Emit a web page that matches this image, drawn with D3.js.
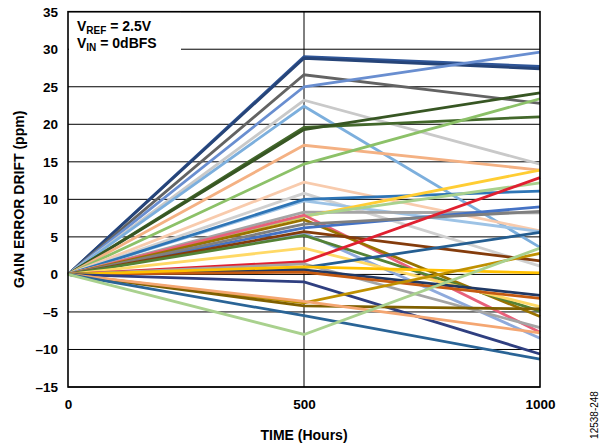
<!DOCTYPE html>
<html>
<head>
<meta charset="utf-8">
<script src="https://cdn.jsdelivr.net/npm/d3@7"></script>
<style>
  body { margin: 0; background: #fff; }
  text { font-family: Arial, "Liberation Sans", sans-serif; }
  .b { font-weight: bold; }
</style>
</head>
<body>
<script>
var times = [0, 500, 1000];
// drift (ppm) at 500 h and 1000 h for each device; all start at 0
var drift500 = [29.0, 28.8, 26.6, 25.0, 23.2, 22.4, 19.6, 19.3, 17.2, 14.7,
                12.3, 10.8, 9.8, 10.0, 8.3, 7.7, 7.8, 7.9, 7.3, 6.2,
                6.7, 5.5, 5.7, 5.2, 3.5, 1.7, 1.4, 0.9, 0.6, 0.3,
                1.0, -1.0, -3.8, -4.2, -3.6, -5.5, -8.0];
var drift1000 = [27.7, 27.4, 22.8, 29.6, 14.7, 3.6, 21.0, 24.2, 13.9, 23.4,
                 5.8, 1.1, 5.7, 11.1, 8.2, 13.9, 12.2, -7.7, -5.6, 9.0,
                 8.4, -8.5, 1.8, -4.9, -4.3, 12.9, -7.1, 5.6, -2.8, -3.2,
                 0.2, -10.6, 2.8, -4.6, -7.8, -11.3, 3.5];
var lineColors = ["#2f5597", "#264478", "#636363", "#698ed0", "#c9c9c9", "#7cafdd", "#43682b", "#375623", "#f4b183", "#8cc168",
                  "#f8cbad", "#d0d0d0", "#9dc3e6", "#2e75b6", "#a5a5a5", "#ffcd33", "#a9d18e", "#e8607a", "#997300", "#4472c4",
                  "#7f7f7f", "#8faadc", "#843c0c", "#548235", "#ffd966", "#e02030", "#a5a5a5", "#255e91", "#203864", "#c55a11",
                  "#ffc000", "#2f3f80", "#bf9000", "#7f6000", "#f4a672", "#2a6496", "#a9d18e"];
var yTicks = [-15, -10, -5, 0, 5, 10, 15, 20, 25, 30, 35];
var xTicks = [0, 500, 1000];

var W = 605, H = 447;
var svg = d3.select("body").append("svg").attr("width", W).attr("height", H);

var x = d3.scaleLinear().domain([0, 1000]).range([68, 540]);
var y = d3.scaleLinear().domain([-15, 35]).range([387, 11.7]);

// grid
svg.selectAll("line.hgrid").data(yTicks).enter().append("line")
  .attr("x1", x(0)).attr("x2", x(1000))
  .attr("y1", function(d){ return y(d); }).attr("y2", function(d){ return y(d); })
  .attr("stroke", "#000").attr("stroke-width", 1);
svg.append("line")
  .attr("x1", x(500)).attr("x2", x(500)).attr("y1", y(35)).attr("y2", y(-15))
  .attr("stroke", "#000").attr("stroke-width", 1);

// series
var line = d3.line().x(function(d){ return x(d[0]); }).y(function(d){ return y(d[1]); });
var series = drift500.map(function(v, i){
  return [[times[0], 0], [times[1], v], [times[2], drift1000[i]]];
});
svg.selectAll("path.s").data(series).enter().append("path")
  .attr("d", line)
  .attr("fill", "none")
  .attr("stroke", function(d, i){ return lineColors[i]; })
  .attr("stroke-width", 2.8)
  .attr("stroke-linejoin", "miter");

// legend box
svg.append("rect").attr("x", x(0) + 1).attr("y", y(35) + 1).attr("width", 112).attr("height", 43).attr("fill", "#fff");
var leg = svg.append("g").attr("class", "b").attr("font-size", 14);
var t1 = leg.append("text").attr("x", 77).attr("y", 31);
t1.append("tspan").text("V");
t1.append("tspan").attr("font-size", 10).attr("dy", 3).text("REF");
t1.append("tspan").attr("dy", -3).text(" = 2.5V");
var t2 = leg.append("text").attr("x", 77).attr("y", 48);
t2.append("tspan").text("V");
t2.append("tspan").attr("font-size", 10).attr("dy", 3).text("IN");
t2.append("tspan").attr("dy", -3).text(" = 0dBFS");

// frame
svg.append("rect").attr("x", x(0)).attr("y", y(35)).attr("width", x(1000) - x(0)).attr("height", y(-15) - y(35))
  .attr("fill", "none").attr("stroke", "#000").attr("stroke-width", 1.6);

// axes
var yAxis = d3.axisLeft(y).tickValues(yTicks).tickSize(0).tickPadding(10)
  .tickFormat(function(d){ return d < 0 ? "\u2013" + Math.abs(d) : d; });
var gy = svg.append("g").attr("transform", "translate(" + x(0) + ",0)").call(yAxis);
gy.select(".domain").remove();
gy.selectAll("text").attr("class", "b").attr("font-size", 13.5).attr("fill", "#000").attr("font-family", "Arial, 'Liberation Sans', sans-serif");

var xAxis = d3.axisBottom(x).tickValues(xTicks).tickSize(0).tickPadding(12).tickFormat(d3.format("d"));
var gx = svg.append("g").attr("transform", "translate(0," + y(-15) + ")").call(xAxis);
gx.select(".domain").remove();
gx.selectAll("text").attr("class", "b").attr("font-size", 13.5).attr("fill", "#000").attr("font-family", "Arial, 'Liberation Sans', sans-serif");

// titles
svg.append("text").attr("class", "b").attr("x", x(500)).attr("y", 440).attr("text-anchor", "middle").attr("font-size", 14)
  .text("TIME (Hours)");
svg.append("text").attr("class", "b").attr("transform", "translate(24," + y(10) + ") rotate(-90)").attr("text-anchor", "middle").attr("font-size", 14)
  .text("GAIN ERROR DRIFT (ppm)");
svg.append("text").attr("transform", "translate(598,415) rotate(-90)").attr("text-anchor", "middle")
  .attr("font-size", 10).text("12538-248");
</script>
</body>
</html>
